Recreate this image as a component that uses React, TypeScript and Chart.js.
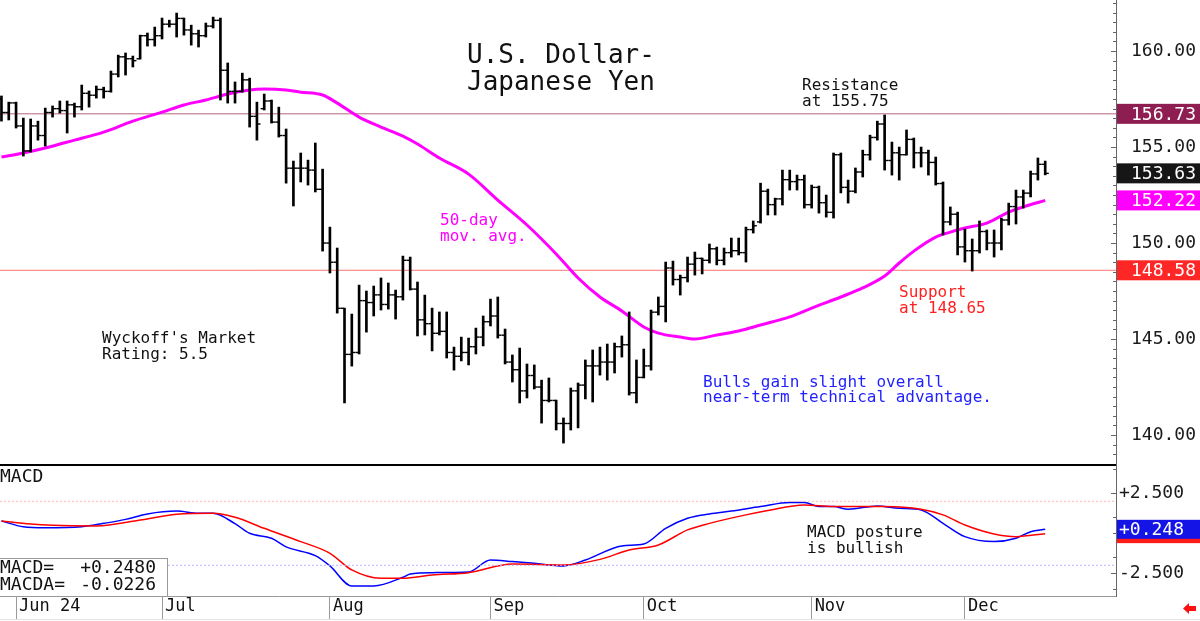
import React, { useEffect, useRef } from "react";
import { Chart, registerables } from "chart.js";

Chart.register(...registerables);

const MONO = '"DejaVu Sans Mono", "Liberation Mono", monospace';

// ---- Daily OHLC bars (trading-day index 0 = May 30, 2024) ----
const opens = [
  157.5, 156.8, 157.3, 156.1, 154.8, 156.1, 155.6, 156.8, 157.0, 156.9,
  157.2, 157.1, 157.8, 157.7, 158.0, 157.9, 158.8, 159.7, 159.6, 159.6,
  160.8, 160.6, 160.8, 161.4, 161.4, 161.7, 161.1, 160.9, 160.8, 161.3,
  161.6, 159.0, 157.9, 157.9, 158.5, 156.6, 157.0, 157.4, 156.3, 155.6,
  153.9, 153.9, 153.9, 153.8, 152.8, 150.0, 149.0, 146.6, 144.2, 144.3,
  147.0, 146.9, 147.3, 146.8, 147.3, 147.2, 149.1, 147.6, 146.0, 145.8,
  145.3, 145.4, 144.3, 144.1, 144.3, 144.6, 145.1, 145.9, 146.2, 145.2,
  143.8, 143.4, 142.3, 143.1, 142.5, 141.8, 141.8, 140.6, 140.6, 142.3,
  142.6, 143.6, 143.6, 143.8, 143.8, 144.6, 144.7, 142.2, 143.0, 143.6,
  146.4, 146.7, 148.7, 148.1, 148.2, 148.9, 149.2, 149.1, 149.7, 149.1,
  149.5, 149.6, 149.5, 150.7, 151.1, 152.7, 152.0, 152.3, 153.3, 153.2,
  153.3, 152.0, 152.9, 152.1, 151.6, 154.6, 152.9, 152.7, 153.7, 154.6,
  155.5, 156.2, 154.3, 154.7, 154.6, 155.4, 154.7, 154.7, 154.2, 153.1,
  151.1, 151.5, 149.8, 149.6, 149.6, 150.6, 150.0, 150.0, 151.2, 151.9,
  152.4, 152.6, 153.6, 154.1,
];
const highs = [
  157.66, 157.34, 157.34, 156.51, 156.46, 156.35, 157.03, 157.14, 157.40, 157.40,
  157.29, 158.23, 157.92, 158.18, 158.12, 158.96, 159.79, 159.90, 159.74, 160.83,
  160.94, 161.25, 161.72, 161.61, 161.98, 161.72, 161.35, 161.09, 161.46, 161.77,
  161.72, 159.38, 158.39, 158.85, 158.59, 157.34, 157.76, 157.45, 157.08, 155.94,
  154.27, 154.69, 154.32, 155.21, 153.85, 150.83, 149.74, 146.61, 146.30, 147.81,
  147.50, 147.76, 148.18, 147.92, 147.55, 149.32, 149.27, 147.97, 147.29, 146.61,
  146.41, 146.41, 144.58, 145.10, 145.05, 145.57, 146.20, 147.08, 147.19, 145.52,
  144.17, 144.53, 143.70, 143.65, 142.86, 142.97, 141.82, 140.89, 142.45, 142.71,
  143.91, 144.43, 144.58, 144.74, 144.79, 145.16, 146.41, 143.91, 144.48, 146.51,
  147.19, 149.01, 149.06, 148.33, 149.27, 149.53, 149.22, 149.95, 149.79, 149.74,
  150.26, 150.26, 150.83, 151.15, 153.12, 152.81, 152.34, 153.80, 153.80, 153.54,
  153.54, 153.02, 152.97, 152.50, 154.69, 154.69, 153.28, 153.91, 154.84, 155.62,
  156.35, 156.67, 155.26, 155.00, 155.89, 155.47, 155.00, 154.84, 154.48, 153.18,
  151.88, 151.61, 150.73, 150.21, 151.15, 150.68, 150.68, 151.30, 152.08, 152.76,
  152.76, 153.75, 154.43, 154.27,
];
const lows = [
  156.35, 156.41, 155.99, 154.53, 154.74, 155.36, 155.05, 156.56, 156.77, 155.73,
  156.56, 156.93, 157.08, 157.55, 157.55, 157.86, 158.65, 158.75, 159.17, 159.58,
  160.26, 160.26, 160.63, 161.25, 160.73, 160.83, 160.31, 160.21, 160.73, 161.20,
  157.45, 157.29, 157.29, 157.86, 156.04, 155.36, 156.93, 156.25, 155.52, 153.12,
  151.93, 153.18, 153.02, 152.66, 149.58, 148.44, 146.35, 141.67, 143.59, 144.22,
  145.36, 146.20, 146.51, 146.56, 146.04, 147.03, 147.55, 145.16, 145.21, 144.38,
  145.21, 144.01, 143.38, 143.86, 143.65, 144.22, 144.64, 145.68, 145.05, 143.70,
  142.76, 141.67, 141.93, 142.40, 140.62, 141.72, 140.26, 139.58, 140.26, 140.37,
  141.88, 141.72, 143.12, 142.86, 143.23, 144.06, 142.08, 141.67, 142.97, 143.38,
  146.25, 145.89, 147.81, 147.29, 147.97, 148.33, 148.39, 148.96, 148.86, 148.86,
  149.27, 149.38, 149.01, 150.52, 151.04, 151.46, 151.46, 151.98, 152.76, 152.76,
  151.82, 151.82, 151.56, 151.35, 151.30, 152.61, 152.08, 152.61, 153.44, 154.32,
  155.36, 153.80, 153.54, 153.28, 154.58, 153.91, 153.96, 153.54, 153.02, 150.42,
  150.94, 149.38, 149.01, 148.54, 149.48, 149.64, 149.27, 149.64, 150.94, 150.99,
  151.82, 152.40, 153.28, 153.55,
];
const closes = [
  156.8, 157.3, 156.1, 154.8, 156.1, 155.6, 156.8, 157.0, 156.9, 157.2,
  157.1, 157.8, 157.7, 158.0, 157.9, 158.8, 159.7, 159.6, 159.5, 160.8,
  160.6, 160.8, 161.4, 161.4, 161.7, 161.1, 160.9, 160.8, 161.3, 161.6,
  159.0, 157.9, 157.9, 158.5, 156.6, 156.2, 157.4, 156.3, 155.6, 153.9,
  153.9, 153.9, 153.8, 152.8, 150.0, 149.0, 146.6, 144.2, 144.3, 147.0,
  146.9, 147.3, 146.8, 147.3, 147.2, 149.1, 147.6, 146.0, 145.8, 145.3,
  145.4, 144.3, 144.1, 144.3, 144.6, 145.1, 145.9, 146.2, 145.2, 143.8,
  143.4, 142.3, 143.1, 142.5, 141.8, 141.8, 140.6, 140.6, 142.3, 142.6,
  143.6, 143.6, 143.8, 143.8, 144.6, 144.7, 142.2, 143.0, 143.6, 146.4,
  146.7, 148.7, 148.1, 148.2, 148.9, 149.2, 149.1, 149.7, 149.1, 149.5,
  149.6, 149.5, 150.7, 150.9, 152.7, 152.0, 152.3, 153.3, 153.2, 153.3,
  152.0, 152.9, 152.1, 151.6, 154.6, 152.9, 152.7, 153.7, 154.6, 155.5,
  156.2, 154.3, 154.7, 154.6, 155.4, 154.7, 154.7, 154.2, 153.1, 151.1,
  151.5, 149.8, 149.6, 149.6, 150.6, 150.0, 150.0, 151.2, 151.9, 152.4,
  152.6, 153.6, 154.1, 153.63,
];

// ---- 50-day moving average ----
const maIdx = [0, 3, 6, 10, 14, 18, 22, 25, 28, 31, 34, 36, 39, 41, 44, 46, 49, 52, 55, 57,
  60, 64, 68, 72, 76, 79, 82, 85, 88, 90, 93, 95, 98, 101, 104, 108, 111, 115, 118, 121,
  123, 125, 128, 130, 132, 135, 138, 140, 143];
const maVal = [154.48, 154.69, 154.95, 155.36, 155.78, 156.35, 156.82, 157.19, 157.45, 157.76,
  157.97, 158.02, 157.97, 157.86, 157.71, 157.29, 156.56, 156.04, 155.57, 155.16,
  154.43, 153.59, 152.24, 150.94, 149.43, 148.18, 147.19, 146.46, 145.63, 145.31,
  145.10, 145.00, 145.21, 145.42, 145.73, 146.15, 146.61, 147.19, 147.66, 148.28,
  148.96, 149.58, 150.31, 150.57, 150.78, 151.04, 151.61, 151.88, 152.22];

// ---- MACD (blue) and signal MACDA (red) ----
const macdIdx = [0, 3, 6, 11, 14, 17, 20, 24, 27, 29, 32, 34, 37, 39, 43, 45, 48, 51, 55, 56,
  59, 64, 67, 70, 73, 77, 80, 85, 88, 91, 94, 97, 100, 104, 108, 110, 112, 114, 116, 120,
  123, 126, 129, 132, 136, 139, 141, 143];
const macdVal = [0.77, 0.41, 0.35, 0.41, 0.62, 0.87, 1.21, 1.39, 1.25, 1.25,
  0.6, 0.0, -0.31, -0.85, -1.4, -2.04, -3.29, -3.29, -2.75, -2.54,
  -2.46, -2.42, -1.67, -1.77, -1.88, -2.04, -1.67, -0.79, -0.67, 0.31,
  0.94, 1.21, 1.39, 1.67, 1.92, 1.92, 1.67, 1.67, 1.5, 1.71,
  1.56, 1.46, 0.62, -0.21, -0.52, -0.31, 0.1, 0.248];
const sigIdx = [0, 4, 7, 13, 19, 24, 29, 32, 36, 41, 45, 48, 52, 55, 59, 64, 70, 77, 82, 86,
  90, 94, 97, 102, 105, 110, 114, 121, 126, 129, 132, 136, 139, 143];
const sigVal = [0.77, 0.58, 0.5, 0.46, 0.83, 1.19, 1.25, 1.0, 0.31, -0.52,
  -1.25, -2.29, -2.81, -2.81, -2.6, -2.46, -1.92, -1.98, -1.63, -1.04,
  -0.73, 0.21, 0.62, 1.15, 1.42, 1.77, 1.67, 1.67, 1.5, 1.15,
  0.52, -0.04, -0.21, -0.0226];
const macdLast = 0.248;
const macdLegend = 0.248;
const sigLast = -0.0226;
const macdBands = [2, -2];

// ---- Levels and tags ----
const resistanceLevel = 156.73;
const supportLevel = 148.58;
const tagValues = [156.73, 153.63, 152.22, 148.58];
const tagColors = ["#8e1d52", "#161616", "#ff00ff", "#ff2626"];

// ---- Axis ticks ----
const priceMajor = [140, 145, 150, 155, 160];
const macdMajor = [2.5, -2.5];
const macdMinor = [4, 1, 0, -1.5, -3.5];
const monthIdx = [2, 22, 45, 67, 88, 111, 132];
const monthLabels = ["Jun 24", "Jul", "Aug", "Sep", "Oct", "Nov", "Dec"];

const X_MIN = -0.2;
const X_MAX = 152.7;

const mainDecor = {
  id: "mainDecor",
  afterDatasetsDraw(chart: any) {
    const { ctx, chartArea, scales } = chart;
    const y = scales.y;
    const W = chart.width;
    ctx.save();
    ctx.strokeStyle = "#666";
    ctx.lineWidth = 1;
    y.ticks.forEach((t: any) => {
      const py = Math.round(y.getPixelForValue(t.value)) + 0.5;
      const major = priceMajor.includes(t.value);
      ctx.beginPath();
      ctx.moveTo(chartArea.right - (major ? 5 : 3), py);
      ctx.lineTo(chartArea.right, py);
      ctx.stroke();
    });
    ctx.font = `18px ${MONO}`;
    ctx.textBaseline = "middle";
    ctx.textAlign = "left";
    tagValues.forEach((v, k) => {
      const py = y.getPixelForValue(v);
      ctx.fillStyle = tagColors[k];
      ctx.fillRect(chartArea.right + 1, py - 10, W - chartArea.right - 1, 20);
      ctx.fillStyle = "#fff";
      ctx.fillText(v.toFixed(2), chartArea.right + 15, py + 1);
    });
    ctx.textBaseline = "alphabetic";
    ctx.fillStyle = "#111";
    ctx.font = `26px ${MONO}`;
    ctx.fillText("U.S. Dollar-", 467, 63);
    ctx.fillText("Japanese Yen", 467, 90);
    ctx.font = `16px ${MONO}`;
    ctx.fillStyle = "#111";
    ctx.fillText("Resistance", 802, 90);
    ctx.fillText("at 155.75", 802, 106);
    ctx.fillText("Wyckoff's Market", 102, 343);
    ctx.fillText("Rating: 5.5", 102, 359);
    ctx.fillStyle = "#ff00ff";
    ctx.fillText("50-day", 440, 225);
    ctx.fillText("mov. avg.", 440, 241);
    ctx.fillStyle = "#1f1fff";
    ctx.fillText("Bulls gain slight overall", 703, 387);
    ctx.fillText("near-term technical advantage.", 703, 402);
    ctx.fillStyle = "#ff2020";
    ctx.fillText("Support", 899, 297);
    ctx.fillText("at 148.65", 899, 313);
    ctx.restore();
  },
};

const macdDecor = {
  id: "macdDecor",
  afterDatasetsDraw(chart: any) {
    const { ctx, chartArea, scales } = chart;
    const y = scales.y;
    const W = chart.width;
    ctx.save();
    ctx.fillStyle = "#000";
    ctx.fillRect(0, 0, chartArea.right, 2);
    ctx.strokeStyle = "#666";
    ctx.lineWidth = 1;
    y.ticks.forEach((t: any) => {
      const py = Math.round(y.getPixelForValue(t.value)) + 0.5;
      const major = macdMajor.includes(t.value);
      ctx.beginPath();
      ctx.moveTo(chartArea.right - (major ? 5 : 3), py);
      ctx.lineTo(chartArea.right, py);
      ctx.stroke();
    });
    ctx.textAlign = "left";
    ctx.textBaseline = "alphabetic";
    ctx.fillStyle = "#111";
    ctx.font = `18px ${MONO}`;
    ctx.fillText("MACD", 0, 18);
    ctx.font = `16px ${MONO}`;
    ctx.fillText("MACD posture", 807, 73);
    ctx.fillText("is bullish", 807, 89);
    ctx.fillStyle = "#fff";
    ctx.fillRect(0, 94, 168, 38);
    ctx.strokeStyle = "#999";
    ctx.strokeRect(-0.5, 94.5, 168, 38);
    ctx.fillStyle = "#111";
    ctx.font = `18px ${MONO}`;
    ctx.fillText("MACD=", 0, 109);
    ctx.fillText("MACDA=", 0, 126);
    ctx.textAlign = "right";
    ctx.fillText("+" + macdLegend.toFixed(4), 156, 109);
    ctx.fillText(sigLast.toFixed(4), 156, 126);
    ctx.textAlign = "left";
    ctx.textBaseline = "middle";
    const pr = y.getPixelForValue(sigLast);
    ctx.fillStyle = "#ff1a1a";
    ctx.fillRect(chartArea.right + 1, pr - 9.5, W - chartArea.right - 1, 19);
    const pb = y.getPixelForValue(macdLast);
    ctx.fillStyle = "#1414e6";
    ctx.fillRect(chartArea.right + 1, pb - 9.5, W - chartArea.right - 1, 19);
    ctx.fillStyle = "#fff";
    ctx.fillText("+" + macdLast.toFixed(3), chartArea.right + 3, pb + 1);
    ctx.fillStyle = "#e2e2e2";
    ctx.fillRect(0, chart.height - 2, W, 1);
    ctx.fillStyle = "#ff1010";
    ctx.beginPath();
    ctx.moveTo(1183, 144.5);
    ctx.lineTo(1189, 139);
    ctx.lineTo(1189, 142);
    ctx.lineTo(1196, 142);
    ctx.lineTo(1196, 147);
    ctx.lineTo(1189, 147);
    ctx.lineTo(1189, 150);
    ctx.closePath();
    ctx.fill();
    ctx.restore();
  },
};

export default function App() {
  const mainRef = useRef<HTMLCanvasElement>(null);
  const macdRef = useRef<HTMLCanvasElement>(null);

  useEffect(() => {
    const idx = highs.map((_, i) => i);
    const main = new Chart(mainRef.current as HTMLCanvasElement, {
      type: "bar",
      data: {
        datasets: [
          {
            type: "bar",
            data: idx.map((i) => ({ x: i, y: [lows[i], highs[i]] })),
            backgroundColor: "#000",
            barThickness: 2,
            grouped: false,
            order: 1,
          } as any,
          {
            type: "scatter",
            data: idx.map((i) => ({ x: i - 0.26, y: opens[i] })),
            pointStyle: "line",
            pointRadius: 1.7,
            borderColor: "#000",
            borderWidth: 1.4,
            order: 0,
          } as any,
          {
            type: "scatter",
            data: idx.map((i) => ({ x: i + 0.26, y: closes[i] })),
            pointStyle: "line",
            pointRadius: 1.7,
            borderColor: "#000",
            borderWidth: 1.4,
            order: 0,
          } as any,
          {
            type: "line",
            data: maIdx.map((x, k) => ({ x, y: maVal[k] })),
            borderColor: "#ff00ff",
            borderWidth: 3,
            pointRadius: 0,
            cubicInterpolationMode: "monotone",
            order: 3,
          } as any,
          {
            type: "line",
            data: [{ x: X_MIN, y: resistanceLevel }, { x: X_MAX, y: resistanceLevel }],
            borderColor: "#b5637f",
            borderWidth: 1,
            pointRadius: 0,
            order: 4,
          } as any,
          {
            type: "line",
            data: [{ x: X_MIN, y: supportLevel }, { x: X_MAX, y: supportLevel }],
            borderColor: "#ff7272",
            borderWidth: 1,
            pointRadius: 0,
            order: 4,
          } as any,
        ],
      },
      options: {
        responsive: false,
        animation: false,
        devicePixelRatio: 1,
        layout: { padding: 0, autoPadding: false },
        plugins: { legend: { display: false }, tooltip: { enabled: false } },
        scales: {
          x: { type: "linear", min: X_MIN, max: X_MAX, display: false, offset: false },
          y: {
            type: "linear",
            position: "right",
            min: 138.49,
            max: 162.66,
            grid: { display: true, drawOnChartArea: false, drawTicks: false },
            border: { display: true, color: "#666", width: 1 },
            ticks: {
              autoSkip: false,
              padding: 15,
              color: "#1a1a1a",
              font: { family: MONO, size: 18 },
              callback: (v: any) => (priceMajor.includes(Number(v)) ? Number(v).toFixed(2) : ""),
            },
            afterBuildTicks: (s: any) => {
              const t: any[] = [];
              for (let v = 139; v <= 162.5; v += 0.5) t.push({ value: v });
              s.ticks = t;
            },
            afterFit: (s: any) => {
              s.width = 84;
              s.paddingTop = 0;
              s.paddingBottom = 0;
            },
          } as any,
        },
      } as any,
      plugins: [mainDecor],
    });

    const macd = new Chart(macdRef.current as HTMLCanvasElement, {
      type: "line",
      data: {
        datasets: [
          {
            data: [{ x: X_MIN, y: macdBands[0] }, { x: X_MAX, y: macdBands[0] }],
            borderColor: "#ffb4b4",
            borderWidth: 1,
            borderDash: [2, 2],
            pointRadius: 0,
          },
          {
            data: [{ x: X_MIN, y: macdBands[1] }, { x: X_MAX, y: macdBands[1] }],
            borderColor: "#b4b4ff",
            borderWidth: 1,
            borderDash: [2, 2],
            pointRadius: 0,
          },
          {
            data: sigIdx.map((x, k) => ({ x, y: sigVal[k] })),
            borderColor: "#ff0000",
            borderWidth: 1.5,
            pointRadius: 0,
            cubicInterpolationMode: "monotone",
          },
          {
            data: macdIdx.map((x, k) => ({ x, y: macdVal[k] })),
            borderColor: "#0000ff",
            borderWidth: 1.5,
            pointRadius: 0,
            cubicInterpolationMode: "monotone",
          },
        ] as any,
      },
      options: {
        responsive: false,
        animation: false,
        devicePixelRatio: 1,
        layout: { padding: 0, autoPadding: false },
        plugins: { legend: { display: false }, tooltip: { enabled: false } },
        scales: {
          x: {
            type: "linear",
            min: X_MIN,
            max: X_MAX,
            offset: false,
            grid: { display: true, drawOnChartArea: false, drawTicks: true, tickLength: 23, color: "#9a9a9a" },
            border: { display: true, color: "#9a9a9a", width: 1 },
            ticks: {
              autoSkip: false,
              maxRotation: 0,
              align: "start",
              labelOffset: 3,
              padding: -23,
              color: "#111",
              font: { family: MONO, size: 17 },
              callback: (_v: any, i: number) => monthLabels[i],
            },
            afterBuildTicks: (s: any) => {
              s.ticks = monthIdx.map((v) => ({ value: v }));
            },
            afterFit: (s: any) => {
              s.height = 25;
              s.paddingLeft = 0;
              s.paddingRight = 0;
            },
          },
          y: {
            type: "linear",
            position: "right",
            min: -3.92,
            max: 4.33,
            grid: { display: true, drawOnChartArea: false, drawTicks: false },
            border: { display: true, color: "#666", width: 1 },
            ticks: {
              autoSkip: false,
              padding: 3,
              color: "#1a1a1a",
              font: { family: MONO, size: 18 },
              callback: (v: any) => {
                const n = Number(v);
                if (!macdMajor.includes(n)) return "";
                return (n > 0 ? "+" : "") + n.toFixed(3);
              },
            },
            afterBuildTicks: (s: any) => {
              s.ticks = [...macdMinor, ...macdMajor].sort((a, b) => a - b).map((v) => ({ value: v }));
            },
            afterFit: (s: any) => {
              s.width = 84;
              s.paddingTop = 0;
              s.paddingBottom = 0;
            },
          },
        },
      } as any,
      plugins: [macdDecor],
    });

    return () => {
      main.destroy();
      macd.destroy();
    };
  }, []);

  return (
    <div style={{ position: "absolute", left: 0, top: 0, width: 1200, height: 621, background: "#fff", overflow: "hidden" }}>
      <canvas ref={mainRef} width={1200} height={464} style={{ position: "absolute", left: 0, top: 0 }} />
      <canvas ref={macdRef} width={1200} height={157} style={{ position: "absolute", left: 0, top: 464 }} />
    </div>
  );
}
